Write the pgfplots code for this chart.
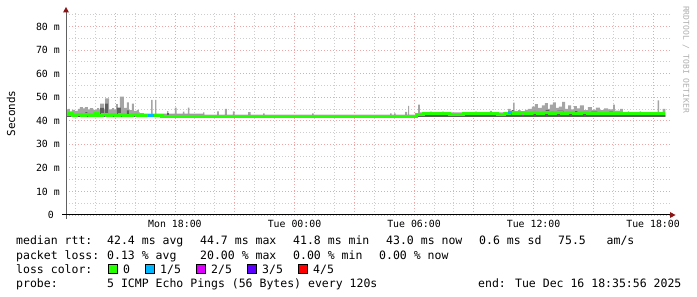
\documentclass[border=0pt]{standalone}
\usepackage{fontspec}
\usepackage{pgfplots}
\pgfplotsset{compat=1.18}
\usepgfplotslibrary{fillbetween}
\newfontfamily\dvm{DejaVu Sans Mono}
\definecolor{mgrid}{RGB}{238,165,165}
\definecolor{sgrid}{RGB}{205,205,205}
\definecolor{lc0}{HTML}{26FF00}
\definecolor{lc1}{HTML}{00B8FF}
\definecolor{lc2}{HTML}{DD00FF}
\definecolor{lc3}{HTML}{5E00FF}
\definecolor{lc4}{HTML}{FF0000}
\definecolor{smoke}{RGB}{165,165,165}
\definecolor{smokedark}{RGB}{95,95,95}
\definecolor{arrowred}{RGB}{140,20,20}
\definecolor{rrdgray}{RGB}{175,175,175}
\newcommand\lgfont{\dvm\fontsize{11.55pt}{14pt}\selectfont}
\newcommand\tkfont{\dvm\fontsize{9.9pt}{12pt}\selectfont}
\begin{document}
\begin{tikzpicture}
\begin{axis}[
  at={(66bp,82bp)}, anchor=south west,
  scale only axis, width=604bp, height=202bp,
  xmin=12.53, xmax=42.85, ymin=0, ymax=85.7,
  axis line style={draw=none},
  xtick={15,18,...,42},
  xticklabels={,Mon 18:00,,Tue 00:00,,Tue 06:00,,Tue 12:00,,Tue 18:00},
  minor xtick={13,14,...,42},
  ytick={0,10,...,80},
  yticklabels={0~~,10 m,20 m,30 m,40 m,50 m,60 m,70 m,80 m},
  minor ytick={5,15,...,85},
  grid=both,
  major grid style={mgrid, dash pattern=on 1bp off 2bp, line width=0.8bp},
  minor grid style={sgrid, dash pattern=on 1bp off 2bp, line width=0.8bp},
  major tick length=0pt, minor tick length=0pt,
  xticklabel style={font=\tkfont, anchor=north, inner sep=0pt, yshift=-5bp},
  yticklabel style={font=\tkfont, anchor=east, inner sep=0pt, xshift=-6bp},
]
% smoke (max of the pings), light
\addplot[name path=smtop, draw=none, const plot] coordinates {
 (12.53,44.8)(12.63,45.0)(12.73,44.0)(12.83,44.6)(12.98,44.2)(13.13,45.0)(13.23,45.8)(13.38,45.2)
 (13.48,45.8)(13.63,44.8)(13.73,45.3)(13.89,44.6)(14.09,45.3)(14.19,44.6)(14.24,47.3)(14.44,44.8)
 (14.49,49.5)(14.69,44.8)(14.84,45.3)(14.94,44.6)(15.04,47.0)(15.14,45.2)(15.24,50.2)(15.44,45.5)
 (15.59,47.8)(15.69,44.5)(15.84,47.3)(15.94,44.2)(16.09,44.6)(16.19,43.5)(16.24,43.2)(16.44,43.0)
 (16.80,48.8)(16.88,43.0)(17.00,48.8)(17.07,43.0)(17.60,44.1)(17.67,43.0)
 (18.00,45.6)(18.08,43.0)(18.40,43.9)(18.47,43.0)(18.65,45.6)(18.72,43.0)
 (19.41,43.5)(19.48,42.5)(20.11,44.0)(20.20,42.5)(20.51,45.0)(20.60,42.5)(20.91,44.0)(21.00,42.5)
 (21.67,43.6)(21.80,42.5)(22.42,43.1)(22.50,42.5)(24.88,43.1)(24.96,42.5)
 (28.80,43.1)(28.88,42.5)(29.00,43.1)(29.08,42.5)(29.55,43.7)(29.65,42.5)(29.70,46.3)(29.76,42.5)
 (30.20,46.8)(30.30,43.5)(30.80,43.9)(30.90,43.5)(31.40,43.9)(31.50,43.5)(33.06,43.9)(33.16,43.5)
 (33.81,44.2)(33.91,43.5)(34.72,45.0)(34.85,44.0)(34.97,47.7)(35.05,44.2)(35.22,44.5)(35.35,43.8)
 (35.57,44.6)(35.72,45.0)(35.92,46.0)(36.07,47.0)(36.22,45.5)(36.42,46.5)(36.57,47.5)(36.72,45.0)
 (36.82,46.8)(36.97,47.8)(37.12,45.5)(37.27,46.0)(37.43,48.0)(37.58,45.0)(37.73,46.5)(37.88,44.8)
 (38.03,46.2)(38.18,45.2)(38.33,46.5)(38.53,44.5)(38.73,45.8)(38.93,44.6)(39.13,45.6)(39.33,44.5)
 (39.54,45.2)(39.74,44.8)(39.99,46.8)(40.08,44.3)(40.34,45.0)(40.49,43.4)(40.73,44.0)(40.80,43.4)
 (41.33,44.0)(41.40,43.4)(42.23,48.6)(42.30,43.4)(42.48,45.0)(42.62,45.0)};
\addplot[name path=smbot, draw=none] coordinates {(12.53,41.6)(42.62,41.6)};
\addplot[smoke] fill between[of=smtop and smbot];
% smoke, dark core
\addplot[name path=smdark, draw=none, const plot] coordinates {
 (12.53,42.5)(13.50,43.6)(13.60,42.5)(14.24,45.5)(14.44,43.2)(14.49,47.2)(14.64,42.5)(15.09,45.6)
 (15.29,42.5)(15.59,44.4)(15.69,42.5)(17.60,43.2)(17.70,42.5)(34.90,44.5)(35.00,42.5)
 (36.00,44.2)(36.10,43.5)(36.60,44.6)(36.80,43.8)(37.20,44.3)(37.50,43.6)(37.90,44.1)(38.20,43.5)
 (38.90,43.9)(39.20,43.6)(39.80,43.9)(40.00,42.5)(42.62,42.5)};
\addplot[smokedark] fill between[of=smdark and smbot];
% median rtt, loss 0
\addplot[lc0, line width=3bp, const plot] coordinates {
 (12.53,42.5)(12.70,42.9)(12.85,42.3)(13.05,42.6)(13.30,42.2)(13.50,42.7)(13.70,42.4)(13.95,42.9)
 (14.10,42.3)(14.35,42.8)(14.55,42.3)(14.80,42.6)(15.00,42.3)(15.20,42.8)(15.40,42.4)(15.60,42.2)
 (15.85,42.6)(16.05,42.2)(16.40,42.3)(16.65,42.1)(17.30,42.0)(18.60,41.9)(19.70,42.0)(20.40,41.8)
 (20.60,42.0)(22.10,41.9)(23.50,42.0)(24.60,41.8)(24.80,41.9)(26.80,42.0)(27.50,41.9)(28.40,41.6)
 (28.90,41.9)(29.70,41.7)(29.85,42.0)(30.10,42.8)(30.50,42.9)(31.80,42.8)(32.50,42.9)(33.70,43.0)
 (34.20,42.8)(34.55,43.2)(34.80,43.4)(35.00,43.1)(35.30,43.5)(35.60,42.9)(35.90,43.3)(36.20,43.0)
 (36.50,43.6)(36.80,43.1)(37.10,43.4)(37.40,42.9)(37.70,43.3)(38.00,43.0)(38.40,43.4)(38.70,42.9)
 (39.00,43.2)(39.40,42.9)(39.80,43.1)(40.20,42.9)(40.60,43.0)(42.62,43.0)};
% median rtt, loss 1/5
\addplot[lc1, line width=3bp] coordinates {(16.65,42.1)(16.95,42.1)};
\addplot[lc1, line width=3bp] coordinates {(34.72,43.4)(34.92,43.4)};
\end{axis}
% axes and arrows
\draw[gray!75!black, line width=1bp] (66bp,78bp) -- (66bp,286bp);
\fill[arrowred] (66bp,290bp) -- (63bp,284.5bp) -- (69bp,284.5bp) -- cycle;
\draw[black, line width=1bp] (62bp,82bp) -- (670bp,82bp);
\fill[arrowred] (675.5bp,82bp) -- (670bp,85bp) -- (670bp,79bp) -- cycle;
% labels
\node[rotate=90, font=\dvm\fontsize{11pt}{13pt}\selectfont, inner sep=0pt] at (11bp,183.5bp) {Seconds};
\node[rotate=-90, font=\dvm\fontsize{8.1pt}{10pt}\selectfont, text=rrdgray, inner sep=0pt] at (686bp,237.5bp) {RRDTOOL / TOBI OETIKER};
% legend
\begin{scope}[every node/.style={anchor=base west, inner sep=0pt, font=\lgfont}]
\node at (16bp,52bp) {median rtt:};
\node at (107bp,52bp) {42.4 ms avg};
\node at (200bp,52bp) {44.7 ms max};
\node at (293bp,52bp) {41.8 ms min};
\node at (386bp,52bp) {43.0 ms now};
\node at (479bp,52bp) {0.6 ms sd};
\node at (558bp,52bp) {75.5~~~am/s};
\node at (16bp,38bp) {packet loss:};
\node at (107bp,38bp) {0.13 \% avg};
\node at (200bp,38bp) {20.00 \% max};
\node at (293bp,38bp) {0.00 \% min};
\node at (379bp,38bp) {0.00 \% now};
\node at (16bp,24bp) {loss color:};
\node at (123bp,24bp) {0};
\node at (160bp,24bp) {1/5};
\node at (211bp,24bp) {2/5};
\node at (262bp,24bp) {3/5};
\node at (313bp,24bp) {4/5};
\node at (16bp,10bp) {probe:};
\node at (107bp,10bp) {5 ICMP Echo Pings (56 Bytes) every 120s};
\node at (478bp,10bp) {end: Tue Dec 16 18:35:56 2025};
\end{scope}
\filldraw[fill=lc0, draw=black, line width=0.8bp] (108.5bp,24bp) rectangle ++(9bp,9bp);
\filldraw[fill=lc1, draw=black, line width=0.8bp] (145.5bp,24bp) rectangle ++(9bp,9bp);
\filldraw[fill=lc2, draw=black, line width=0.8bp] (196.5bp,24bp) rectangle ++(9bp,9bp);
\filldraw[fill=lc3, draw=black, line width=0.8bp] (247.5bp,24bp) rectangle ++(9bp,9bp);
\filldraw[fill=lc4, draw=black, line width=0.8bp] (298.5bp,24bp) rectangle ++(9bp,9bp);
\pgfresetboundingbox
\path[use as bounding box] (0bp,0bp) rectangle (697bp,297bp);
\end{tikzpicture}
\end{document}
